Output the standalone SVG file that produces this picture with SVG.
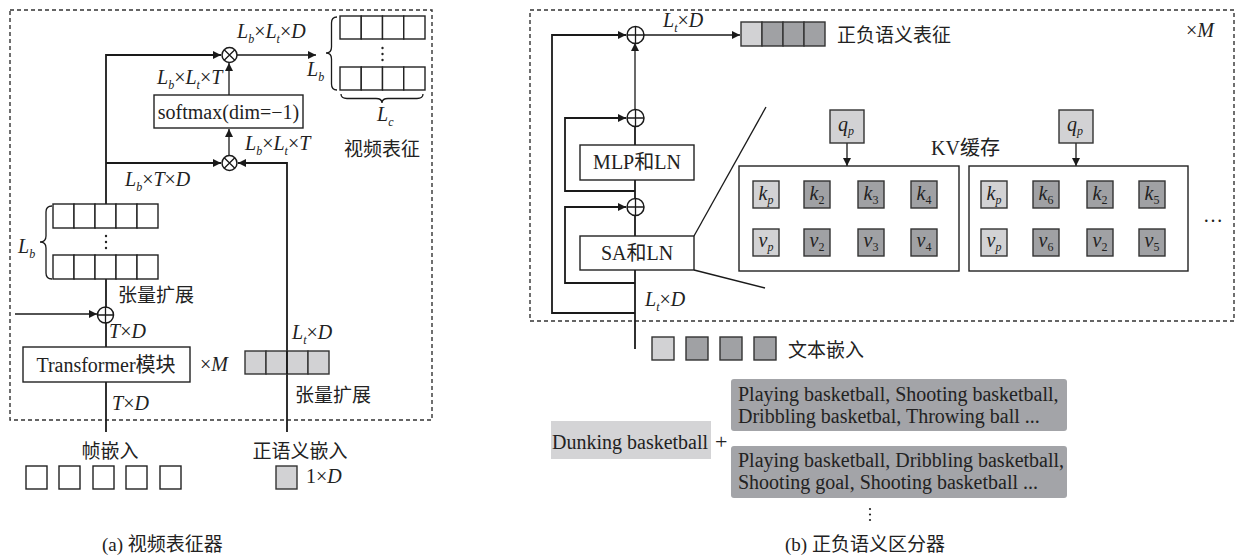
<svg xmlns="http://www.w3.org/2000/svg" width="1239" height="555" viewBox="0 0 1239 555">
<style>
.t{font-family:'Liberation Serif','Noto Sans CJK SC',serif;font-size:20px;fill:#222}
.cj{font-family:'Liberation Serif','Noto Sans CJK SC',serif;font-size:19px;fill:#222}
.i{font-style:italic}
.s{font-size:12px}
.ln{stroke:#1a1a1a;stroke-width:1.8;fill:none}
.th{stroke:#1a1a1a;stroke-width:1.3;fill:none}
.dash{stroke:#333;stroke-width:1.4;stroke-dasharray:4 3;fill:none}
.cell{fill:#fff;stroke:#222;stroke-width:1.4}
.lg{fill:#d2d2d4;stroke:#333;stroke-width:1.4}
.dg{fill:#a0a1a4;stroke:#333;stroke-width:1.4}
.op{fill:#fff;stroke:#1a1a1a;stroke-width:1.5}
.box{fill:#fff;stroke:#222;stroke-width:1.4}
</style>
<defs>
<marker id="ar" viewBox="0 0 10 10" markerWidth="9" markerHeight="8" markerUnits="userSpaceOnUse" refX="10" refY="5" orient="auto">
<path d="M0,0 L10,5 L0,10 z" fill="#1a1a1a"/>
</marker>
</defs>
<rect width="1239" height="555" fill="#fff"/>

<!-- frames -->
<rect class="dash" x="10" y="10" width="422" height="410"/>
<rect class="dash" x="530" y="10" width="704" height="311"/>

<!-- connectors -->
<g id="connectors">
<!-- (a) -->
<path class="ln" d="M106,204 L106,55 L221,55" marker-end="url(#ar)"/>
<path class="ln" d="M106,163 L221,163" marker-end="url(#ar)"/>
<path class="th" d="M237,55 L316,55" marker-end="url(#ar)"/>
<path class="th" d="M229,95 L229,63" marker-end="url(#ar)"/>
<path class="th" d="M229,155 L229,129" marker-end="url(#ar)"/>
<path class="ln" d="M287,432 L287,163 L238,163" marker-end="url(#ar)"/>
<path class="ln" d="M106,279 L106,307"/>
<path class="ln" d="M106,323 L106,347"/>
<path class="ln" d="M106,382 L106,432"/>
<path class="th" d="M15,314 L97,314" marker-end="url(#ar)"/>
<!-- (b) -->
<path class="ln" d="M635,349 L635,270"/>
<path class="ln" d="M635,236 L635,215"/>
<path class="ln" d="M635,199 L635,180"/>
<path class="ln" d="M635,145 L635,126"/>
<path class="th" d="M635,110 L635,43" marker-end="url(#ar)"/>
<path class="ln" d="M635,313 L552,313 L552,35 L626,35" marker-end="url(#ar)"/>
<path class="ln" d="M635,283 L565,283 L565,207 L626,207" marker-end="url(#ar)"/>
<path class="ln" d="M635,191 L565,191 L565,118 L626,118" marker-end="url(#ar)"/>
<path class="th" d="M644,35 L740,35" marker-end="url(#ar)"/>
<path class="th" d="M694,236 L766,107"/>
<path class="th" d="M694,270 L765,288"/>
<path class="th" d="M847,143 L847,166" marker-end="url(#ar)"/>
<path class="th" d="M1076,143 L1076,166" marker-end="url(#ar)"/>
</g>

<!-- (a) nodes -->
<g id="mul-top">
<circle class="op" cx="229.5" cy="55" r="7.5"/>
<path class="th" d="M224.2,49.7 L234.8,60.3 M234.8,49.7 L224.2,60.3"/>
</g>
<g id="mul-bottom">
<circle class="op" cx="229.5" cy="163" r="7.5"/>
<path class="th" d="M224.2,157.7 L234.8,168.3 M234.8,157.7 L224.2,168.3"/>
</g>
<g id="add-a">
<circle class="op" cx="105.5" cy="315" r="8"/>
<path class="th" d="M97.5,315 L113.5,315 M105.5,307 L105.5,323"/>
</g>
<g id="softmax">
<rect class="box" x="154" y="95" width="149" height="33"/>
<text class="t" x="228.5" y="118.5" text-anchor="middle">softmax(dim=−1)</text>
</g>
<g id="transformer">
<rect class="box" x="23" y="347" width="167" height="35"/>
<text class="t" x="106" y="372" text-anchor="middle">Transformer模块</text>
</g>
<g id="stack-a">
<rect class="cell" x="53" y="204" width="21" height="24"/>
<rect class="cell" x="74" y="204" width="21" height="24"/>
<rect class="cell" x="95" y="204" width="21" height="24"/>
<rect class="cell" x="116" y="204" width="21" height="24"/>
<rect class="cell" x="137" y="204" width="21" height="24"/>
<rect class="cell" x="53" y="255" width="21" height="24"/>
<rect class="cell" x="74" y="255" width="21" height="24"/>
<rect class="cell" x="95" y="255" width="21" height="24"/>
<rect class="cell" x="116" y="255" width="21" height="24"/>
<rect class="cell" x="137" y="255" width="21" height="24"/>
<circle cx="106" cy="236" r="1.2" fill="#222"/>
<circle cx="106" cy="242" r="1.2" fill="#222"/>
<circle cx="106" cy="248" r="1.2" fill="#222"/>
<path class="th" d="M52,206 Q46,206 46,212 L46,236 Q46,242 40,242 Q46,242 46,248 L46,273 Q46,279 52,279"/>
<text class="t" x="18" y="253"><tspan class="i">L</tspan><tspan class="s i" dy="5">b</tspan></text>
</g>
<g id="video-rep">
<rect class="cell" x="340" y="16" width="21.25" height="23"/>
<rect class="cell" x="361.25" y="16" width="21.25" height="23"/>
<rect class="cell" x="382.5" y="16" width="21.25" height="23"/>
<rect class="cell" x="403.75" y="16" width="21.25" height="23"/>
<rect class="cell" x="340" y="67" width="21.25" height="23"/>
<rect class="cell" x="361.25" y="67" width="21.25" height="23"/>
<rect class="cell" x="382.5" y="67" width="21.25" height="23"/>
<rect class="cell" x="403.75" y="67" width="21.25" height="23"/>
<circle cx="382.5" cy="48" r="1.2" fill="#222"/>
<circle cx="382.5" cy="54" r="1.2" fill="#222"/>
<circle cx="382.5" cy="60" r="1.2" fill="#222"/>
<path class="th" d="M337,17 Q331.5,17 331.5,23 L331.5,47 Q331.5,53 326,53 Q331.5,53 331.5,59 L331.5,84 Q331.5,90 337,90"/>
<path class="th" d="M341,94 Q341,98.5 347,98.5 L376,98.5 Q382,98.5 382,103 Q382,98.5 388,98.5 L417,98.5 Q423,98.5 423,94"/>
<text class="t" x="307" y="76"><tspan class="i">L</tspan><tspan class="s i" dy="5">b</tspan></text>
<text class="t" x="377" y="121"><tspan class="i">L</tspan><tspan class="s i" dy="5">c</tspan></text>
<text class="cj" x="344" y="156">视频表征</text>
</g>
<g id="text-expand-a">
<rect class="lg" x="245" y="351" width="21" height="23"/>
<rect class="lg" x="266" y="351" width="21" height="23"/>
<rect class="lg" x="287" y="351" width="21" height="23"/>
<rect class="lg" x="308" y="351" width="21" height="23"/>
<line class="ln" x1="287" y1="351" x2="287" y2="374"/>
</g>
<g id="frames-in">
<rect class="cell" x="26" y="466" width="21" height="23"/>
<rect class="cell" x="59" y="466" width="21" height="23"/>
<rect class="cell" x="93" y="466" width="21" height="23"/>
<rect class="cell" x="126" y="466" width="21" height="23"/>
<rect class="cell" x="160" y="466" width="21" height="23"/>
<text class="cj" x="110" y="458" text-anchor="middle">帧嵌入</text>
</g>
<g id="pos-in">
<rect class="lg" x="276" y="466" width="21" height="23"/>
<text class="cj" x="300" y="458" text-anchor="middle">正语义嵌入</text>
<text class="t" x="306" y="483">1×<tspan class="i">D</tspan></text>
</g>
<g id="labels-a">
<text class="t" x="237" y="38"><tspan class="i">L</tspan><tspan class="s i" dy="5">b</tspan><tspan dy="-5">×</tspan><tspan class="i">L</tspan><tspan class="s i" dy="5">t</tspan><tspan dy="-5">×</tspan><tspan class="i">D</tspan></text>
<text class="t" x="157" y="84"><tspan class="i">L</tspan><tspan class="s i" dy="5">b</tspan><tspan dy="-5">×</tspan><tspan class="i">L</tspan><tspan class="s i" dy="5">t</tspan><tspan dy="-5">×</tspan><tspan class="i">T</tspan></text>
<text class="t" x="245" y="150"><tspan class="i">L</tspan><tspan class="s i" dy="5">b</tspan><tspan dy="-5">×</tspan><tspan class="i">L</tspan><tspan class="s i" dy="5">t</tspan><tspan dy="-5">×</tspan><tspan class="i">T</tspan></text>
<text class="t" x="125" y="186"><tspan class="i">L</tspan><tspan class="s i" dy="5">b</tspan><tspan dy="-5">×</tspan><tspan class="i">T</tspan>×<tspan class="i">D</tspan></text>
<text class="cj" x="118" y="302">张量扩展</text>
<text class="t" x="109" y="338"><tspan class="i">T</tspan>×<tspan class="i">D</tspan></text>
<text class="t" x="200" y="371">×<tspan class="i">M</tspan></text>
<text class="t" x="292" y="339"><tspan class="i">L</tspan><tspan class="s i" dy="5">t</tspan><tspan dy="-5">×</tspan><tspan class="i">D</tspan></text>
<text class="cj" x="295" y="402">张量扩展</text>
<text class="t" x="112" y="410"><tspan class="i">T</tspan>×<tspan class="i">D</tspan></text>
<text class="cj" x="102" y="551">(a) 视频表征器</text>
</g>

<!-- (b) nodes -->
<g id="add-1">
<circle class="op" cx="635.5" cy="35" r="8.5"/>
<path class="th" d="M627,35 L644,35 M635.5,26.5 L635.5,43.5"/>
</g>
<g id="add-2">
<circle class="op" cx="635.5" cy="118" r="8.5"/>
<path class="th" d="M627,118 L644,118 M635.5,109.5 L635.5,126.5"/>
</g>
<g id="add-3">
<circle class="op" cx="635.5" cy="207" r="8.5"/>
<path class="th" d="M627,207 L644,207 M635.5,198.5 L635.5,215.5"/>
</g>
<g id="mlp">
<rect class="box" x="580" y="145" width="114" height="35"/>
<text class="t" x="637" y="169" text-anchor="middle">MLP和LN</text>
</g>
<g id="sa">
<rect class="box" x="580" y="236" width="114" height="34"/>
<text class="t" x="637" y="260" text-anchor="middle">SA和LN</text>
</g>
<g id="semantic-rep">
<rect class="lg" x="741" y="22" width="21" height="24"/>
<rect class="dg" x="762" y="22" width="21" height="24"/>
<rect class="dg" x="783" y="22" width="21" height="24"/>
<rect class="dg" x="804" y="22" width="21" height="24"/>
<text class="cj" x="837" y="42">正负语义表征</text>
</g>
<g id="qp1">
<rect class="lg" x="830" y="110" width="34" height="33"/>
<text class="t" x="838" y="131"><tspan class="i">q</tspan><tspan class="s i" dy="4">p</tspan></text>
</g>
<g id="qp2">
<rect class="lg" x="1059" y="110" width="34" height="33"/>
<text class="t" x="1067" y="131"><tspan class="i">q</tspan><tspan class="s i" dy="4">p</tspan></text>
</g>
<g id="kv1">
<rect class="box" x="739" y="166" width="220" height="105"/>
<rect class="lg" x="753" y="181" width="26" height="27"/><text class="t" x="758.5" y="200"><tspan class="i">k</tspan><tspan class="s i" dy="4">p</tspan></text>
<rect class="dg" x="804" y="181" width="26" height="27"/><text class="t" x="809.5" y="200"><tspan class="i">k</tspan><tspan class="s" dy="4">2</tspan></text>
<rect class="dg" x="858" y="181" width="26" height="27"/><text class="t" x="863.5" y="200"><tspan class="i">k</tspan><tspan class="s" dy="4">3</tspan></text>
<rect class="dg" x="911" y="181" width="26" height="27"/><text class="t" x="916.5" y="200"><tspan class="i">k</tspan><tspan class="s" dy="4">4</tspan></text>
<rect class="lg" x="753" y="229" width="26" height="27"/><text class="t" x="758.5" y="247"><tspan class="i">v</tspan><tspan class="s i" dy="4">p</tspan></text>
<rect class="dg" x="804" y="229" width="26" height="27"/><text class="t" x="809.5" y="247"><tspan class="i">v</tspan><tspan class="s" dy="4">2</tspan></text>
<rect class="dg" x="858" y="229" width="26" height="27"/><text class="t" x="863.5" y="247"><tspan class="i">v</tspan><tspan class="s" dy="4">3</tspan></text>
<rect class="dg" x="911" y="229" width="26" height="27"/><text class="t" x="916.5" y="247"><tspan class="i">v</tspan><tspan class="s" dy="4">4</tspan></text>
</g>
<g id="kv2">
<rect class="box" x="969" y="166" width="219" height="105"/>
<rect class="lg" x="981" y="181" width="26" height="27"/><text class="t" x="986.5" y="200"><tspan class="i">k</tspan><tspan class="s i" dy="4">p</tspan></text>
<rect class="dg" x="1033" y="181" width="26" height="27"/><text class="t" x="1038.5" y="200"><tspan class="i">k</tspan><tspan class="s" dy="4">6</tspan></text>
<rect class="dg" x="1087" y="181" width="26" height="27"/><text class="t" x="1092.5" y="200"><tspan class="i">k</tspan><tspan class="s" dy="4">2</tspan></text>
<rect class="dg" x="1139" y="181" width="26" height="27"/><text class="t" x="1144.5" y="200"><tspan class="i">k</tspan><tspan class="s" dy="4">5</tspan></text>
<rect class="lg" x="981" y="229" width="26" height="27"/><text class="t" x="986.5" y="247"><tspan class="i">v</tspan><tspan class="s i" dy="4">p</tspan></text>
<rect class="dg" x="1033" y="229" width="26" height="27"/><text class="t" x="1038.5" y="247"><tspan class="i">v</tspan><tspan class="s" dy="4">6</tspan></text>
<rect class="dg" x="1087" y="229" width="26" height="27"/><text class="t" x="1092.5" y="247"><tspan class="i">v</tspan><tspan class="s" dy="4">2</tspan></text>
<rect class="dg" x="1139" y="229" width="26" height="27"/><text class="t" x="1144.5" y="247"><tspan class="i">v</tspan><tspan class="s" dy="4">5</tspan></text>
</g>
<g id="text-embed">
<rect class="lg" x="652" y="337" width="22" height="23"/>
<rect class="dg" x="686" y="337" width="22" height="23"/>
<rect class="dg" x="720" y="337" width="22" height="23"/>
<rect class="dg" x="754" y="337" width="22" height="23"/>
<text class="cj" x="788" y="357">文本嵌入</text>
</g>
<g id="labels-b">
<text class="t" x="663" y="27"><tspan class="i">L</tspan><tspan class="s i" dy="5">t</tspan><tspan dy="-5">×</tspan><tspan class="i">D</tspan></text>
<text class="t" x="1186" y="37">×<tspan class="i">M</tspan></text>
<text class="t" x="645" y="306"><tspan class="i">L</tspan><tspan class="s i" dy="5">t</tspan><tspan dy="-5">×</tspan><tspan class="i">D</tspan></text>
<text class="t" x="931" y="155">KV缓存</text>
<text class="t" x="1203" y="222">…</text>
</g>
<g id="pos-text">
<rect x="551" y="421" width="160" height="38" fill="#d4d4d6"/>
<text class="t" x="552" y="449">Dunking basketball</text>
<text class="t" x="715" y="449" style="font-size:22px">+</text>
</g>
<g id="neg-text-1">
<rect x="731" y="379" width="336" height="52" rx="3" fill="#a3a4a8"/>
<text class="t" x="738" y="401">Playing basketball, Shooting basketball,</text>
<text class="t" x="738" y="423">Dribbling basketbal, Throwing ball ...</text>
</g>
<g id="neg-text-2">
<rect x="731" y="446" width="336" height="52" rx="3" fill="#a3a4a8"/>
<text class="t" x="738" y="467">Playing basketball, Dribbling basketball,</text>
<text class="t" x="738" y="489">Shooting goal, Shooting basketball ...</text>
</g>
<g id="more">
<circle cx="870" cy="509" r="1.1" fill="#222"/>
<circle cx="870" cy="514.5" r="1.1" fill="#222"/>
<circle cx="870" cy="520" r="1.1" fill="#222"/>
</g>
<text class="cj" x="785" y="551">(b) 正负语义区分器</text>
</svg>
